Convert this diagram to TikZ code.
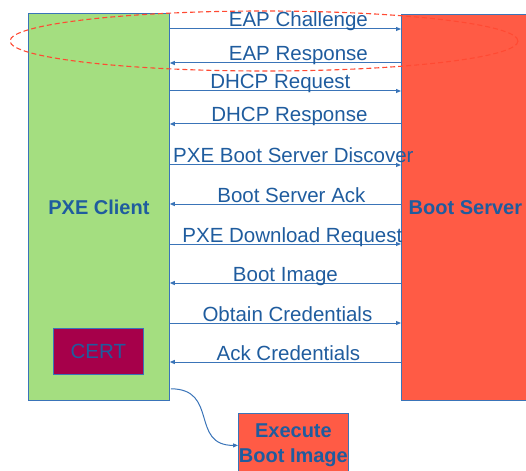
\documentclass[tikz,border=0pt]{standalone}
\usepackage{fontspec}
\setmainfont{Liberation Sans}
\usetikzlibrary{arrows.meta}

\definecolor{clientgreen}{HTML}{A4DE80}
\definecolor{servred}{HTML}{FF5B45}
\definecolor{certred}{HTML}{A6004A}
\definecolor{textblue}{HTML}{1F5C9E}
\definecolor{linkblue}{HTML}{3A74B8}
\definecolor{ellred}{HTML}{FF4A33}

\begin{document}
\begin{tikzpicture}[x=1pt, y=-1pt, > = {Triangle[length=5pt, width=4pt]},
	every node/.style={font=\fontsize{20.5}{25}\selectfont, text=textblue},
	box/.style={draw=linkblue, line width=0.8pt, anchor=north west, inner sep=0pt, align=center},
	boldbox/.style={box, font=\bfseries\fontsize{20}{25}\selectfont},
	msg/.style={draw=linkblue, line width=1pt},
	]

	\useasboundingbox (0,0) rectangle (526,470);

	\node[boldbox, fill=clientgreen, minimum width=141pt, minimum height=387pt] (client) at (28,13) {PXE Client};
	\node[boldbox, fill=servred, minimum width=128pt, minimum height=386pt] (server) at (401,14) {Boot Server};
	\node[box, fill=certred, minimum width=90pt, minimum height=46pt] (cert) at (53,328) {CERT};
	\node[boldbox, fill=servred, minimum width=110pt, minimum height=64pt] (exec) at (238,413) {Execute\\Boot Image};

	% messages between client and server
	\foreach \yy/\dir/\dx/\txt in {29/->/13/EAP Challenge, 63/<-/13/EAP Response,
		91/->/-5/DHCP Request, 124/<-/4/DHCP Response,
		165/->/8/PXE Boot Server Discover, 204/<-/6/Boot Server Ack,
		244/->/7/PXE Download Request, 283/<-/0/Boot Image,
		323/->/2/Obtain Credentials, 362/<-/3/Ack Credentials}
	{
		\coordinate (row) at (0,\yy);
		\draw[msg, \dir] (client.east |- row) -- (server.west |- row)
			node[midway, anchor=base, xshift=\dx pt, yshift=2pt] {\txt};
	}

	\draw[msg, ->] ([xshift=1pt, yshift=12pt]client.south east) to[out=0, in=180, looseness=1.4] (exec.west); % boot

	\draw[draw=ellred, line width=1.1pt, dash pattern=on 5pt off 3pt] (264,41) ellipse [x radius=254, y radius=30]; % EAP

\end{tikzpicture}
\end{document}
